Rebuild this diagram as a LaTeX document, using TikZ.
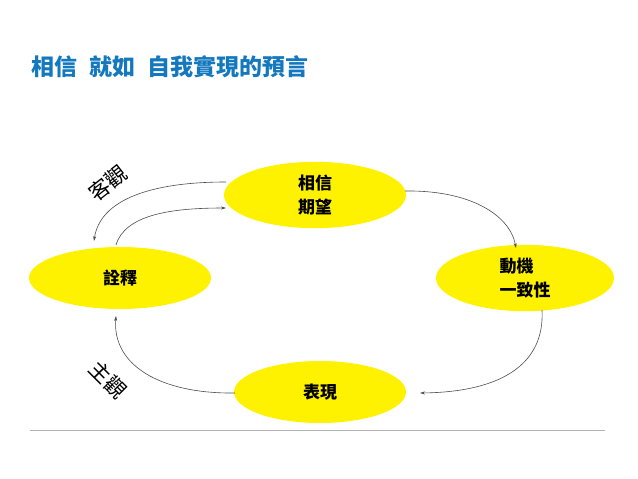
\documentclass[tikz,border=0pt]{standalone}
\usepackage{fontspec}
\newfontfamily\cjk{Noto Sans CJK TC}
\usetikzlibrary{shapes.geometric,arrows.meta}
\definecolor{titleblue}{RGB}{20,120,190}
\tikzset{
 bubble/.style={ellipse,fill=yellow,minimum width=#1,minimum height=62pt,font=\cjk\bfseries\fontsize{17}{24}\selectfont,align=left},
 flow/.style={draw=black!70,line width=0.6pt,-{Stealth[length=5pt,width=3pt]}},
 lab/.style={font=\cjk\fontsize{21}{22}\selectfont,inner sep=0pt}
}
\begin{document}
\begin{tikzpicture}[x=1pt,y=-1pt]
\useasboundingbox (0,0) rectangle (638,479);
\node[anchor=west,text=titleblue,font=\cjk\bfseries\fontsize{23}{26}\selectfont] (t) at (28,67) {相信\hspace{12pt}就如\hspace{12pt}自我實現的預言};
\node[bubble=182pt] (a) at (315,195) {相信\\期望};
\node[bubble=182pt] (b) at (120,278) {詮釋};
\node[bubble=178pt] (c) at (525,278) {動機\\一致性};
\node[bubble=172pt] (d) at (320,392) {表現};
\draw[flow] (226,182) .. controls (150,182) and (100,200) .. (94,241);
\draw[flow] (116,245) .. controls (125,215) and (170,208) .. (226,208);
\draw[flow] (405,191) .. controls (470,190) and (510,215) .. (516,248);
\draw[flow] (542,310) .. controls (545,365) and (500,392) .. (420,393);
\draw[flow] (235,393) .. controls (160,394) and (112,365) .. (116,316);
\node[lab,rotate=38] (k) at (108,183) {客觀};
\node[lab,rotate=-45] (z) at (108,380) {主觀};
\coordinate (l1) at (30,430); \coordinate (l2) at (605,430);
\draw[black!30,line width=0.8pt] (l1) -- (l2);
\end{tikzpicture}
\end{document}
